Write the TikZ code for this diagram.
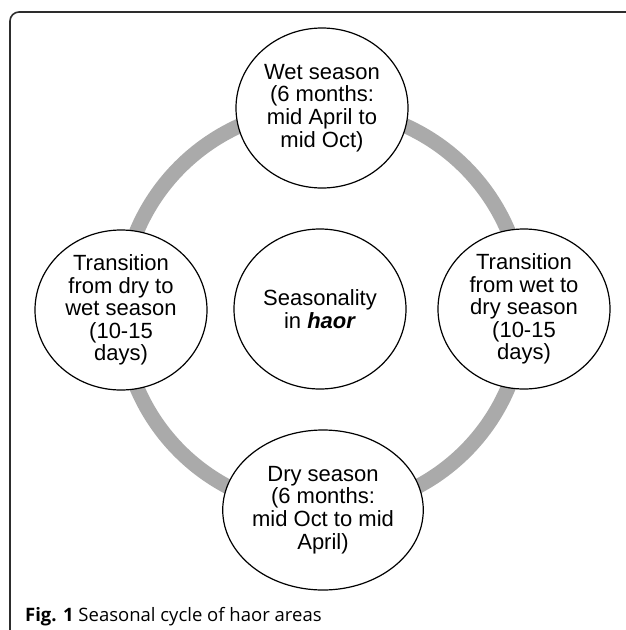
\documentclass[tikz,border=0pt]{standalone}
\usepackage{fontspec}
\setmainfont{Liberation Sans}
\newfontfamily\capfont{Open Sans}
\usetikzlibrary{shapes.geometric, backgrounds}
\definecolor{ringgray}{RGB}{170, 170, 170}
\definecolor{framegray}{RGB}{45, 45, 45}

\tikzset{
  season/.style={ellipse, draw=black, line width=1.2pt, fill=white,
    minimum width=172pt, minimum height=160pt, inner sep=0pt,
    align=center, font=\fontsize{22}{22.6}\selectfont},
  ring/.style={draw=ringgray, line width=15pt},
}

\begin{document}
\begin{tikzpicture}[x=1pt, y=-1pt]
\useasboundingbox (0, 0) rectangle (625, 630);

% --- Marco ---
\draw[framegray, line width=1.6pt, rounded corners=9pt] (10, 640) -- (10, 12) -- (640, 12);

% --- Estaciones ---
\node[season] (wet) at (322, 108) {Wet season\\(6 months:\\mid April to\\mid Oct)};
\node[season] (wettodry) at (524, 309) {Transition\\from wet to\\dry season\\(10-15\\days)};
\node[season] (dry) at (323, 510) {Dry season\\(6 months:\\mid Oct to mid\\April)};
\node[season] (drytowet) at (121, 310) {Transition\\from dry to\\wet season\\(10-15\\days)};
\node[season] (centre) at (320, 309) {Seasonality\\in \textbf{\textit{haor}}};

% --- Ciclo ---
\begin{pgfonlayer}{background}
\draw[ring] (wet.center) to[bend left=45] (wettodry.center);
\draw[ring] (wettodry.center) to[bend left=45] (dry.center);
\draw[ring] (dry.center) to[bend left=45] (drytowet.center);
\draw[ring] (drytowet.center) to[bend left=45] (wet.center);
\end{pgfonlayer}

% --- Pie de figura ---
\node[anchor=base west, inner sep=0pt, font=\capfont\fontsize{18.5}{20}\selectfont] (caption) at (25, 621) {\textbf{Fig. 1} Seasonal cycle of haor areas};

\end{tikzpicture}
\end{document}
